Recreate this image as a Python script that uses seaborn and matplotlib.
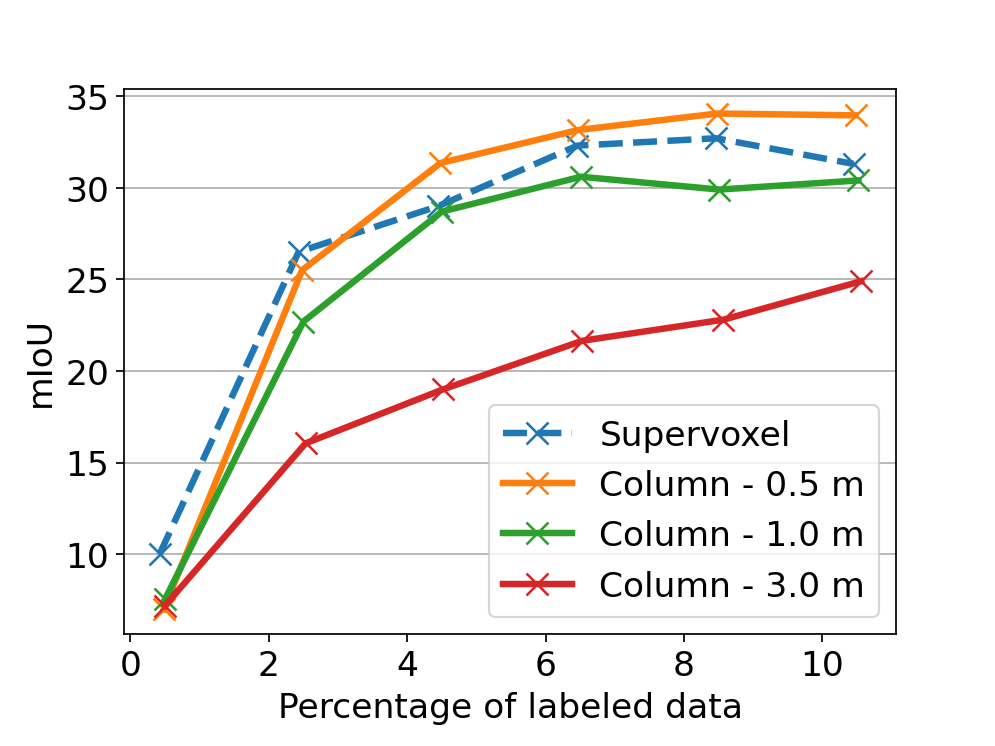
import numpy as np
import pandas as pd
import matplotlib
matplotlib.use("Agg")
import matplotlib.pyplot as plt
import seaborn as sns

# values
series_names = ["Supervoxel", "Column - 0.5 m", "Column - 1.0 m", "Column - 3.0 m"]
x_supervoxel = [0.42, 2.43, 4.45, 6.46, 8.46, 10.45]
y_supervoxel = [10.0, 26.5, 29.0, 32.3, 32.7, 31.3]
x_col05 = [0.48, 2.48, 4.48, 6.47, 8.48, 10.48]
y_col05 = [7.0, 25.5, 31.35, 33.15, 34.05, 33.95]
x_col10 = [0.5, 2.5, 4.5, 6.51, 8.51, 10.52]
y_col10 = [7.55, 22.7, 28.7, 30.6, 29.9, 30.4]
x_col30 = [0.5, 2.53, 4.52, 6.53, 8.57, 10.56]
y_col30 = [7.2, 16.05, 19.0, 21.65, 22.8, 24.9]

plt.rcParams["font.size"] = 16

fig, ax = plt.subplots(figsize=(6.4, 4.8), dpi=155.6)
fig.subplots_adjust(left=0.125, right=0.9, top=0.88, bottom=0.15)

colors = ["#1f77b4", "#ff7f0e", "#2ca02c", "#d62728"]
xs = [x_supervoxel, x_col05, x_col10, x_col30]
ys = [y_supervoxel, y_col05, y_col10, y_col30]
styles = ["--", "-", "-", "-"]

for name, x, y, c, ls in zip(series_names, xs, ys, colors, styles):
    sns.lineplot(x=x, y=y, ax=ax, color=c, linestyle=ls, linewidth=3,
                 marker="x", markersize=10, markeredgewidth=1.2,
                 markeredgecolor=c, label=name, sort=False)

ax.grid(axis="y", color="#b0b0b0")
ax.set_axisbelow(True)
ax.set_xlabel("Percentage of labeled data")
ax.set_ylabel("mIoU")
ax.legend(loc="lower right")

fig.savefig("out.png", dpi=155.6)
